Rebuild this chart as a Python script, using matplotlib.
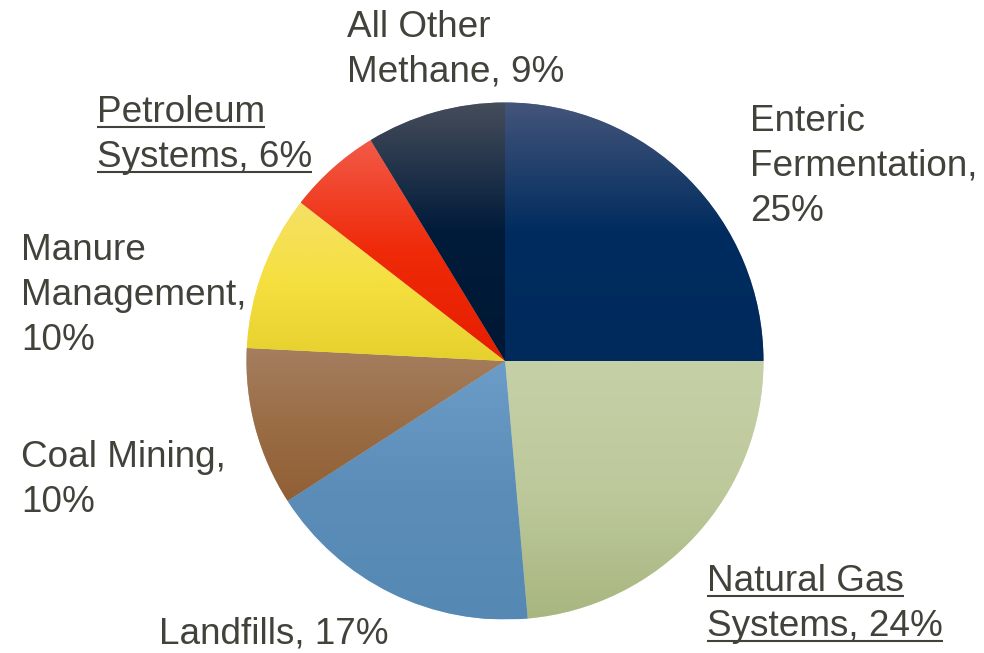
import matplotlib
matplotlib.use("Agg")
import matplotlib.pyplot as plt
import numpy as np
from matplotlib.colors import to_rgb

# ---- data ----
categories = ["Enteric Fermentation", "Natural Gas Systems", "Landfills", "Coal Mining",
              "Manure Management", "Petroleum Systems", "All Other Methane"]
values = [25.0, 23.6, 17.3, 9.9, 9.7, 5.8, 8.7]   # slice shares
label_lines = [
    ["Enteric", "Fermentation,", "25%"],
    ["Natural Gas", "Systems, 24%"],
    ["Landfills, 17%"],
    ["Coal Mining,", "10%"],
    ["Manure", "Management,", "10%"],
    ["Petroleum", "Systems, 6%"],
    ["All Other", "Methane, 9%"],
]
underlined = [False, True, False, False, False, True, False]

# gradient stops (top -> bottom) per slice
grad_stops = [
    [(0.0, "#44557a"), (0.5, "#002c5f"), (1.0, "#002a5c")],
    [(0.0, "#c5d0a7"), (0.5, "#bdc99b"), (1.0, "#a8b680")],
    [(0.0, "#6c9dc8"), (0.5, "#5b8db8"), (1.0, "#5589b3")],
    [(0.0, "#a57e5f"), (0.5, "#9a6d45"), (1.0, "#915f35")],
    [(0.0, "#f6e066"), (0.5, "#f5e040"), (1.0, "#e6d02e")],
    [(0.0, "#f25a48"), (0.5, "#ef2a08"), (1.0, "#e61e00")],
    [(0.0, "#464d5b"), (0.5, "#001b3a"), (1.0, "#001833")],
]

# ---- layout ----
W, H = 984, 653
cx, cy, R = 505, 361, 258.5
text_color = "#41433b"
fs = 26.6
# (left x, first baseline y) in pixel coordinates (top-down)
label_pos = [(750, 131), (707, 591), (159, 644), (21, 467), (21, 260), (97, 122), (347, 37)]
line_step = 45

fig = plt.figure(figsize=(W / 100, H / 100), dpi=100)
ax = fig.add_axes([0, 0, 1, 1])
wedges, _ = ax.pie(values, startangle=90, counterclock=False, center=(cx, H - cy),
                   radius=R, colors=[s[0][1] for s in grad_stops],
                   wedgeprops=dict(linewidth=0.6, edgecolor=(1, 1, 1, 0.35)))
ax.set_xlim(0, W)
ax.set_ylim(0, H)
ax.set_aspect("equal")
ax.axis("off")

for w, stops in zip(wedges, grad_stops):
    ext = w.get_path().get_extents()
    x0, y0, x1, y1 = ext.x0, ext.y0, ext.x1, ext.y1
    n = 256
    t = np.linspace(0, 1, n)
    pos = [s[0] for s in stops]
    cols = np.array([to_rgb(s[1]) for s in stops])
    img = np.stack([np.interp(t, pos, cols[:, k]) for k in range(3)], axis=1)[:, None, :]
    im = ax.imshow(img, extent=(x0, x1, y0, y1), origin="upper", aspect="auto",
                   interpolation="bilinear", zorder=w.get_zorder() + 0.1)
    im.set_clip_path(w)

ax.set_xlim(0, W)
ax.set_ylim(0, H)

texts = []
for lines, (lx, ly), ul in zip(label_lines, label_pos, underlined):
    for i, line in enumerate(lines):
        by = ly + i * line_step
        t = ax.text(lx, H - by, line, fontsize=fs, family=["Liberation Sans", "DejaVu Sans"],
                    color=text_color, ha="left", va="baseline", zorder=5)
        texts.append((t, by, ul))

fig.canvas.draw()
inv = ax.transData.inverted()
for t, by, ul in texts:
    if not ul:
        continue
    bb = t.get_window_extent()
    xa = inv.transform((bb.x0, 0))[0]
    xb = inv.transform((bb.x1, 0))[0]
    ax.plot([xa, xb], [H - by - 5, H - by - 5], color=text_color, lw=1.5,
            solid_capstyle="butt", zorder=5)

fig.savefig("out.png", dpi=100, facecolor="white")
